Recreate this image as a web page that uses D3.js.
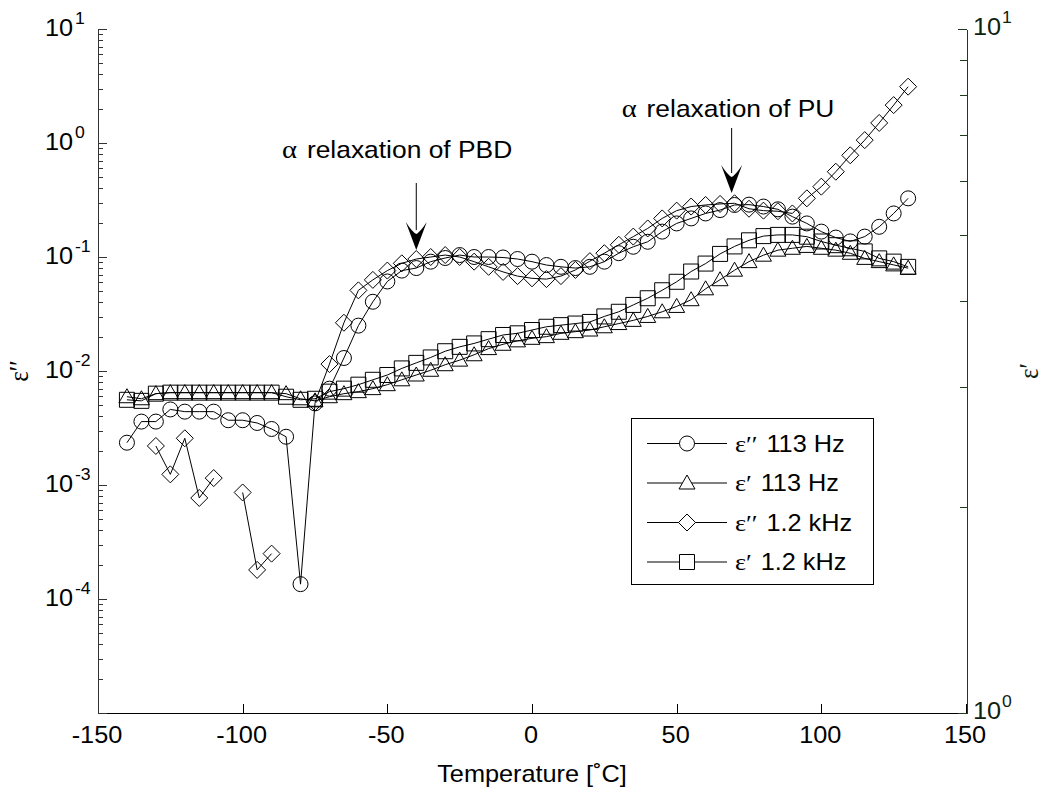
<!DOCTYPE html>
<html>
<head>
<meta charset="utf-8">
<script src="https://cdn.jsdelivr.net/npm/d3@7"></script>
<style>
  body { margin: 0; background: #fff; }
  svg { display: block; }
  text { font-family: "Liberation Sans", Arial, sans-serif; fill: #000; }
  .greek { font-family: "Liberation Serif", "DejaVu Serif", serif; }
</style>
</head>
<body>
<svg id="chart" width="1050" height="797"></svg>
<script>
// Temperatures of the dielectric sweep (°C)
const temps = [-140,-135,-130,-125,-120,-115,-110,-105,-100,-95,-90,-85,-80,-75,-70,-65,-60,-55,-50,-45,-40,-35,-30,-25,-20,-15,-10,-5,0,5,10,15,20,25,30,35,40,45,50,55,60,65,70,75,80,85,90,95,100,105,110,115,120,125,130];

// Loss ε'' at 113 Hz (left axis)
const lossLow = [2.35e-3,3.6e-3,3.6e-3,4.6e-3,4.4e-3,4.4e-3,4.4e-3,3.7e-3,3.7e-3,3.5e-3,3.1e-3,2.65e-3,1.35e-4,
  5.2e-3,7.0e-3,1.3e-2,2.5e-2,4.05e-2,6.1e-2,7.6e-2,8.0e-2,9.1e-2,0.098,0.104,0.100,0.100,0.099,0.096,0.091,
  0.085,0.082,0.080,0.082,0.091,0.108,0.123,0.136,0.167,0.197,0.218,0.241,0.258,0.286,0.288,0.277,0.262,0.226,0.197,0.167,0.148,0.137,0.151,0.184,0.241,0.327];

// Loss ε'' at 1.2 kHz (left axis); null where no positive value was measured
const lossHigh = [null,null,2.2e-3,1.24e-3,2.57e-3,7.7e-4,1.15e-3,null,8.6e-4,1.8e-4,2.5e-4,null,null,
  5.3e-3,1.15e-2,2.65e-2,5.1e-2,6.3e-2,7.6e-2,8.8e-2,0.096,0.100,0.104,0.100,0.091,0.082,0.074,0.068,0.065,
  0.064,0.068,0.077,0.092,0.108,0.128,0.151,0.178,0.218,0.255,0.277,0.286,0.292,0.296,0.265,0.255,0.252,0.241,0.327,0.414,0.56,0.78,1.06,1.5,2.15,3.12];

// Permittivity ε' at 113 Hz (right axis)
const permLow = [2.90,2.88,2.93,2.94,2.94,2.94,2.94,2.94,2.94,2.94,2.94,2.93,2.88,
  2.86,2.90,2.93,2.95,2.98,3.02,3.07,3.12,3.17,3.23,3.28,3.34,3.41,3.46,3.50,3.53,
  3.55,3.59,3.61,3.63,3.67,3.71,3.75,3.80,3.86,3.93,4.02,4.17,4.30,4.44,4.57,4.67,4.75,4.78,4.81,4.78,4.75,4.70,4.62,4.57,4.52,4.47];

// Permittivity ε' at 1.2 kHz (right axis)
const permHigh = [2.87,2.86,2.93,2.94,2.94,2.94,2.94,2.94,2.94,2.94,2.94,2.90,2.87,
  2.88,2.95,2.98,3.02,3.07,3.12,3.19,3.25,3.31,3.38,3.43,3.47,3.52,3.57,3.59,3.63,
  3.67,3.69,3.71,3.73,3.80,3.86,3.95,4.04,4.15,4.27,4.42,4.54,4.69,4.81,4.91,4.98,5.00,5.00,4.97,4.89,4.83,4.78,4.73,4.62,4.57,4.49];

// Axis ticks
const xTicks = [-150,-100,-50,0,50,100,150];
const leftExps = [-4,-3,-2,-1,0,1];
const rightExps = [0,1];

// Legend entries and annotations
const seriesNames = ["ε′′", "ε′", "ε′′", "ε′"];
const seriesFreq = ["113 Hz", "113 Hz", "1.2 kHz", "1.2 kHz"];
const annotText = ["relaxation of PBD", "relaxation of PU"];
const annotTipT = [-40, 69];
const annotTipV = [0.115, 0.364];
const annotTopV = [0.446, 1.354];
const annotLabelT = [-86.4, 31];
const annotLabelV = [0.738, 1.70];

const SX = 1.1; // horizontal text stretch
const svg = d3.select("#chart");
const L = 98, R = 966, T = 29, B = 713;

const x = d3.scaleLinear().domain([-150, 150]).range([L, R]);
const yL = d3.scaleLog().domain([1e-5, 10]).range([B, T]);
const yR = d3.scaleLog().domain([1, 10]).range([B, T]);

function stretchedText(parent, px, py, anchor, size, extra) {
  return parent.append("g")
    .attr("transform", `translate(${px},${py}) ${extra || ""} scale(${SX},1)`)
    .append("text")
    .attr("text-anchor", anchor)
    .style("font-size", size + "px");
}

function minorTicks(lo, hi) {
  const out = [];
  for (let e = lo; e < hi; e++) for (let m = 2; m <= 9; m++) out.push(m * Math.pow(10, e));
  return out;
}

// ---- Axes ----
const axes = svg.append("g").attr("shape-rendering", "crispEdges");

// bottom axis
const gx = axes.append("g").attr("transform", `translate(0,${B})`)
  .call(d3.axisBottom(x).tickValues(xTicks).tickSizeInner(-9).tickSizeOuter(0).tickFormat(""));
gx.select(".domain").attr("stroke", "#000");
gx.selectAll(".tick line").attr("stroke", "#000");
xTicks.forEach(v => {
  stretchedText(svg, x(v) - 1, B + 30, "middle", 23).text(v);
});

// left axis (ε'')
const gyl = axes.append("g").attr("transform", `translate(${L},0)`);
gyl.call(d3.axisLeft(yL).tickValues([1e-5,1e-4,1e-3,1e-2,1e-1,1,10]).tickSizeInner(-9).tickSizeOuter(0).tickFormat(""));
gyl.append("g").call(d3.axisLeft(yL).tickValues(minorTicks(-5, 1)).tickSizeInner(-5).tickSizeOuter(0).tickFormat(""))
  .select(".domain").remove();
gyl.selectAll(".domain").attr("stroke", "#333");
gyl.selectAll(".tick line").attr("stroke", "#333");
leftExps.forEach(e => {
  stretchedText(svg, 73, yL(Math.pow(10, e)) + 7, "end", 23).text("10");
  stretchedText(svg, 75, yL(Math.pow(10, e)) - 5, "start", 16).text(e);
});

// right axis (ε')
const rightColor = "#1f3b1f";
const gyr = axes.append("g").attr("transform", `translate(${R + 0.5},0)`);
gyr.call(d3.axisRight(yR).tickValues([1, 10]).tickSizeInner(-9).tickSizeOuter(0).tickFormat(""));
gyr.append("g").call(d3.axisRight(yR).tickValues(minorTicks(0, 1)).tickSizeInner(-7).tickSizeOuter(0).tickFormat(""))
  .select(".domain").remove();
gyr.selectAll(".domain").attr("stroke", rightColor);
gyr.selectAll(".tick line").attr("stroke", rightColor);
rightExps.forEach(e => {
  stretchedText(svg, 973, yR(Math.pow(10, e)) + 6, "start", 23).style("fill", "#0f220f").text("10");
  stretchedText(svg, 1002, yR(Math.pow(10, e)) - 6, "start", 16).style("fill", "#0f220f").text(e);
});

// axis titles
stretchedText(svg, 532, 782, "middle", 23).text("Temperature [˚C]");
svg.append("g").attr("transform", `translate(28,${(T + B) / 2}) rotate(-90) scale(1,1.1)`)
  .append("text").attr("class", "greek").attr("text-anchor", "middle").style("font-size", "25px").text("ε′′");
svg.append("g").attr("transform", `translate(1038,${(T + B) / 2}) rotate(-90) scale(1,1.1)`)
  .append("text").attr("class", "greek").attr("text-anchor", "middle").style("font-size", "25px")
  .style("fill", "#0f220f").text("ε′");

// ---- Markers ----
function markerPath(kind) {
  switch (kind) {
    case "circle": { const p = d3.path(); p.moveTo(7.5, 0); p.arc(0, 0, 7.5, 0, 2 * Math.PI); p.closePath(); return p.toString(); }
    case "triangle": return "M0,-8L8,6L-8,6Z";
    case "diamond": return "M0,-8.5L8.5,0L0,8.5L-8.5,0Z";
    case "square": return "M-7.5,-7.5H7.5V7.5H-7.5Z";
  }
}

const series = [
  { values: lossLow, y: yL, kind: "circle" },
  { values: permLow, y: yR, kind: "triangle" },
  { values: lossHigh, y: yL, kind: "diamond" },
  { values: permHigh, y: yR, kind: "square" }
];

const plot = svg.append("g");
series.forEach(s => {
  const pts = temps.map((t, i) => ({ t, v: s.values[i] }));
  const line = d3.line().defined(d => d.v != null).x(d => x(d.t)).y(d => s.y(d.v));
  plot.append("path").datum(pts).attr("d", line)
    .attr("fill", "none").attr("stroke", "#000").attr("stroke-width", 1);
  plot.append("g").selectAll("path").data(pts.filter(d => d.v != null)).join("path")
    .attr("transform", d => `translate(${x(d.t)},${s.y(d.v)})`)
    .attr("d", markerPath(s.kind))
    .attr("fill", "none").attr("stroke", "#000").attr("stroke-width", 1);
});

// ---- Annotations ----
annotText.forEach((txt, i) => {
  const tx = x(annotTipT[i]), ty = yL(annotTipV[i]), top = yL(annotTopV[i]);
  svg.append("line").attr("x1", tx).attr("x2", tx).attr("y1", top).attr("y2", ty - 20)
    .attr("stroke", "#000").attr("stroke-width", 1);
  svg.append("path").attr("transform", `translate(${tx},${ty})`)
    .attr("d", "M0,0L-10.5,-28Q-4,-18 0,-16Q4,-18 10.5,-28Z").attr("fill", "#000");
  const lx = x(annotLabelT[i]), ly = yL(annotLabelV[i]);
  const t = stretchedText(svg, lx, ly, "start", 24);
  t.append("tspan").attr("class", "greek").style("font-size", "26px").text("α");
  t.append("tspan").attr("dx", 9).text(txt);
});

// ---- Legend ----
const lg = svg.append("g").attr("transform", "translate(631,418)");
lg.append("rect").attr("width", 242).attr("height", 166)
  .attr("fill", "#fff").attr("stroke", "#000").attr("stroke-width", 1).attr("shape-rendering", "crispEdges");
series.forEach((s, i) => {
  const ry = 25.5 + i * 39.5;
  lg.append("line").attr("x1", 16).attr("x2", 96).attr("y1", ry).attr("y2", ry).attr("stroke", "#000");
  lg.append("path").attr("transform", `translate(56,${ry})`).attr("d", markerPath(s.kind))
    .attr("fill", "#fff").attr("stroke", "#000");
  const t = stretchedText(lg, 104, ry + 8, "start", 23);
  t.append("tspan").attr("class", "greek").style("font-size", "24px").text(seriesNames[i]);
  t.append("tspan").attr("dx", 8).text(seriesFreq[i]);
});
</script>
</body>
</html>
